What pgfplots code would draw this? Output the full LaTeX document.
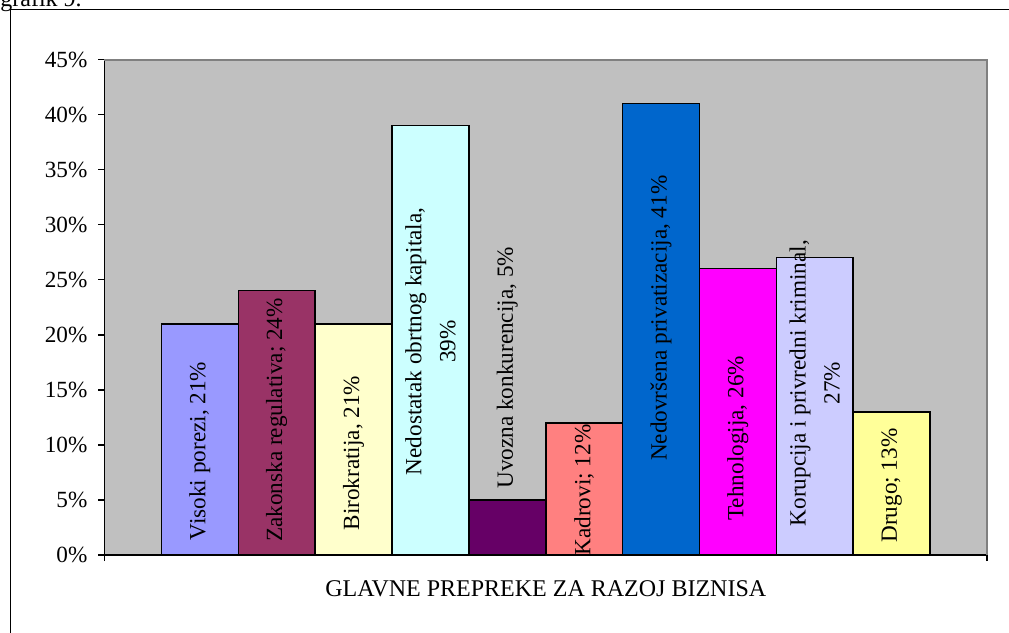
\documentclass[border=0pt]{standalone}
\usepackage{pgfplots}
\pgfplotsset{compat=1.18}
\usepackage{fontspec}
\setmainfont{Liberation Serif}
\definecolor{plotgray}{HTML}{C0C0C0}
\definecolor{bordergray}{HTML}{808080}
\definecolor{c1}{HTML}{9999FF}
\definecolor{c2}{HTML}{993366}
\definecolor{c3}{HTML}{FFFFCC}
\definecolor{c4}{HTML}{CCFFFF}
\definecolor{c5}{HTML}{660066}
\definecolor{c6}{HTML}{FF8080}
\definecolor{c7}{HTML}{0066CC}
\definecolor{c8}{HTML}{FF00FF}
\definecolor{c9}{HTML}{CCCCFF}
\definecolor{c10}{HTML}{FFFF99}
\begin{document}
\fontsize{11.6}{17}\selectfont
\begin{tikzpicture}[font=\fontsize{11.6}{17}\selectfont]
\path[use as bounding box] (0,0) rectangle (504.5pt,-316.5pt);
\clip (0,0) rectangle (504.5pt,-316.5pt);
\node[anchor=base west, inner sep=0pt, font=\fontsize{12}{14}\selectfont] at (0pt,-3pt) {grafik 9.};
\draw[line width=0.75pt] (512pt,-4.75pt) -- (5.25pt,-4.75pt) -- (5.25pt,-330pt);
\begin{axis}[
  at={(52.25pt,-277.5pt)}, anchor=south west,
  width=441.25pt, height=247.75pt, scale only axis,
  xmin=-1.24, xmax=10.24, ymin=0, ymax=45,
  axis background/.style={fill=plotgray},
  axis x line*=bottom, axis y line*=left,
  axis line style={line width=0.75pt, black, -},
  tick align=outside, major tick length=3pt,
  tick style={line width=0.75pt, black},
  ytick={0,5,10,15,20,25,30,35,40,45},
  yticklabels={0\%,5\%,10\%,15\%,20\%,25\%,30\%,35\%,40\%,45\%},
  xtick={-1.24,10.24}, xticklabels={},
  yticklabel style={xshift=-1.5pt},
  xlabel={GLAVNE PREPREKE ZA RAZOJ BIZNISA},
  xlabel style={at={(axis description cs:0.5,0)}, anchor=base, yshift=-20.5pt, font=\fontsize{12}{14}\selectfont},
  clip=false,
]
\draw[bordergray, line width=1pt] (rel axis cs:0,1) -- (rel axis cs:1,1) -- (rel axis cs:1,0);
\addplot[ybar, bar width=1, bar shift=0pt, fill=c1, draw=black, line width=0.75pt] coordinates {(0,21)};
\addplot[ybar, bar width=1, bar shift=0pt, fill=c2, draw=black, line width=0.75pt] coordinates {(1,24)};
\addplot[ybar, bar width=1, bar shift=0pt, fill=c3, draw=black, line width=0.75pt] coordinates {(2,21)};
\addplot[ybar, bar width=1, bar shift=0pt, fill=c4, draw=black, line width=0.75pt] coordinates {(3,39)};
\addplot[ybar, bar width=1, bar shift=0pt, fill=c5, draw=black, line width=0.75pt] coordinates {(4,5)};
\addplot[ybar, bar width=1, bar shift=0pt, fill=c6, draw=black, line width=0.75pt] coordinates {(5,12)};
\addplot[ybar, bar width=1, bar shift=0pt, fill=c7, draw=black, line width=0.75pt] coordinates {(6,41)};
\addplot[ybar, bar width=1, bar shift=0pt, fill=c8, draw=black, line width=0.75pt] coordinates {(7,26)};
\addplot[ybar, bar width=1, bar shift=0pt, fill=c9, draw=black, line width=0.75pt] coordinates {(8,27)};
\addplot[ybar, bar width=1, bar shift=0pt, fill=c10, draw=black, line width=0.75pt] coordinates {(9,13)};
\node[rotate=90] at (axis cs:0,9.45) {Visoki porezi, 21\%};
\node[rotate=90] at (axis cs:1,12.26) {Zakonska regulativa; 24\%};
\node[rotate=90] at (axis cs:2,9.26) {Birokratija, 21\%};
\node[rotate=90, align=center] at (axis cs:3,19.4) {Nedostatak obrtnog kapitala,\\39\%};
\node[rotate=90] at (axis cs:4,17.0) {Uvozna konkurencija, 5\%};
\node[rotate=90] at (axis cs:5,5.9) {Kadrovi; 12\%};
\node[rotate=90] at (axis cs:6,21.5) {Nedovršena privatizacija, 41\%};
\node[rotate=90] at (axis cs:7,10.6) {Tehnologija, 26\%};
\node[rotate=90, align=center] at (axis cs:8,15.6) {Korupcija i privredni kriminal,\\27\%};
\node[rotate=90] at (axis cs:9,6.3) {Drugo; 13\%};
\end{axis}
\end{tikzpicture}
\end{document}
